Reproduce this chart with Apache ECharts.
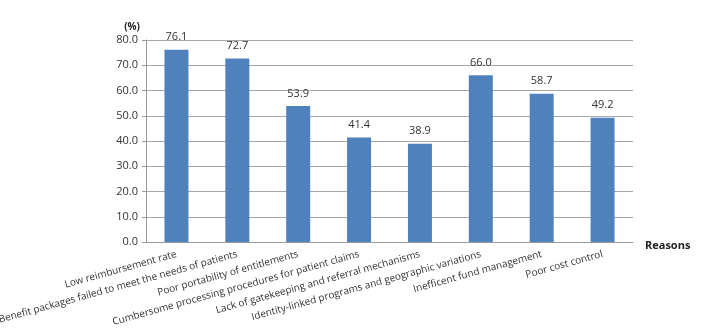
<!DOCTYPE html>
<html>
<head>
<meta charset="utf-8">
<script src="https://cdn.jsdelivr.net/npm/echarts@6/dist/echarts.min.js"></script>
<style>
  html, body { margin: 0; padding: 0; background: #fff; }
  #main { width: 708px; height: 335px; }
</style>
</head>
<body>
<div id="main"></div>
<script>
const reasons = [
  'Low reimbursement rate',
  'Benefit packages failed to meet the needs of patients',
  'Poor portability of entitlements',
  'Cumbersome processing procedures for patient claims',
  'Lack of gatekeeping and referral mechanisms',
  'Identity-linked programs and geographic variations',
  'Inefficent fund management',
  'Poor cost control'
];
const percents = [76.1, 72.7, 53.9, 41.4, 38.9, 66.0, 58.7, 49.2];

const font = '"Open Sans", "Liberation Sans", sans-serif';

let option = {
  animation: false,
  grid: {
    left: 146,
    right: 75,
    top: 40,
    bottom: 93,
    outerBoundsMode: 'none'
  },
  xAxis: {
    type: 'category',
    data: reasons,
    name: 'Reasons',
    nameLocation: 'end',
    nameGap: 12,
    nameTextStyle: {
      fontFamily: font,
      fontSize: 11,
      fontWeight: 'bold',
      color: '#222',
      verticalAlign: 'top',
      padding: [-2, 0, 0, 0]
    },
    axisLine: { lineStyle: { color: '#999', width: 1 } },
    axisTick: { show: false },
    axisLabel: {
      interval: 0,
      rotate: 15.5,
      margin: 12,
      fontFamily: font,
      fontSize: 10,
      color: '#333'
    }
  },
  yAxis: {
    type: 'value',
    min: 0,
    max: 80,
    interval: 10,
    name: '(%)',
    nameLocation: 'end',
    nameGap: 8,
    nameTextStyle: {
      fontFamily: font,
      fontSize: 10,
      fontWeight: 'bold',
      color: '#222',
      align: 'right',
      padding: [0, 6, 0, 0]
    },
    axisLine: { show: true, lineStyle: { color: '#999' } },
    axisTick: { show: true, length: 4, lineStyle: { color: '#999' } },
    splitLine: { lineStyle: { color: '#a6a6a6', width: 1 } },
    axisLabel: {
      formatter: v => v.toFixed(1),
      margin: 8,
      fontFamily: font,
      fontSize: 11,
      color: '#333'
    }
  },
  series: [
    {
      type: 'bar',
      data: percents,
      barWidth: 24,
      itemStyle: { color: '#4f81bd' },
      label: {
        show: true,
        position: 'top',
        distance: 7,
        formatter: p => p.value.toFixed(1),
        fontFamily: font,
        fontSize: 11,
        color: '#333'
      }
    }
  ]
};

let myChart = echarts.init(document.getElementById('main'));
myChart.setOption(option);
</script>
</body>
</html>
